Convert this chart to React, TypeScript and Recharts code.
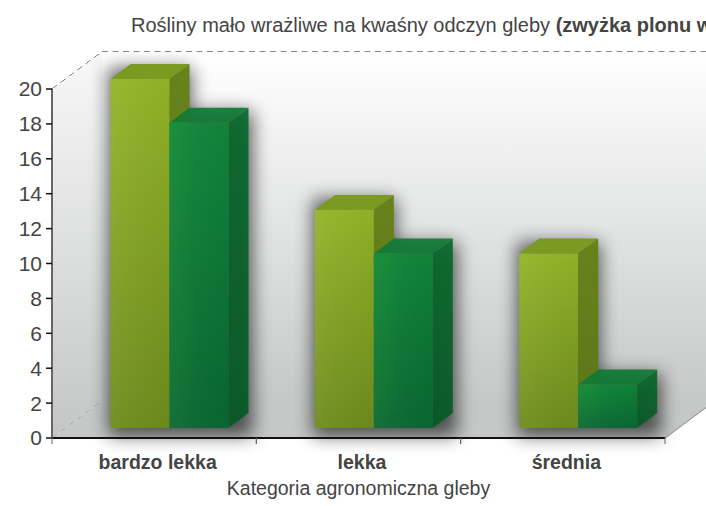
import React from 'react';
import { BarChart, Bar, XAxis, YAxis, CartesianGrid } from 'recharts';

const categories = ['bardzo lekka', 'lekka', 'średnia'];
const lightValues = [20, 12.5, 10];
const darkValues = [17.5, 10, 2.5];
const yTicks = [0, 2, 4, 6, 8, 10, 12, 14, 16, 18, 20];

const titleMain = 'Rośliny mało wrażliwe na kwaśny odczyn gleby ';
const titleBold = '(zwyżka plonu w %)';
const xTitle = 'Kategoria agronomiczna gleby';

const chartData = categories.map((name, i) => ({ name, light: lightValues[i], dark: darkValues[i] }));

const FONT = '"Liberation Sans Narrow", "Liberation Sans", sans-serif';
const TEXT = '#444444';

// plot box and the 3D depth of the room
const LEFT = 52;
const RIGHT = 665;
const TOP = 89;
const BOTTOM = 438;
const ROOM_DX = 50;
const ROOM_DY = 37;
// bars stand a little inside the room
const BAR_SHIFT_X = 15.5;
const BAR_SHIFT_Y = 10;
const BAR_DX = 20;
const BAR_DY = 15;
const BAND = (RIGHT - LEFT) / categories.length;

const Room = () => (
  <g>
    <polygon
      points={`${LEFT + ROOM_DX},${TOP - ROOM_DY} ${RIGHT + ROOM_DX},${TOP - ROOM_DY} ${RIGHT + ROOM_DX},${BOTTOM - ROOM_DY} ${LEFT + ROOM_DX},${BOTTOM - ROOM_DY}`}
      fill="url(#wallFill)"
    />
    <polygon
      points={`${LEFT},${TOP} ${LEFT + ROOM_DX},${TOP - ROOM_DY} ${LEFT + ROOM_DX},${BOTTOM - ROOM_DY} ${LEFT},${BOTTOM}`}
      fill="url(#sideFill)"
    />
    <polygon
      points={`${LEFT},${BOTTOM} ${RIGHT},${BOTTOM} ${RIGHT + ROOM_DX},${BOTTOM - ROOM_DY} ${LEFT + ROOM_DX},${BOTTOM - ROOM_DY}`}
      fill="#c6c8c8"
    />
    <line x1={RIGHT} y1={BOTTOM} x2={RIGHT + ROOM_DX} y2={BOTTOM - ROOM_DY} stroke="#8a8a8a" />
  </g>
);

const GridLine = (props: any) => {
  const { x1, y1, x2 } = props;
  return (
    <g stroke="#111" strokeWidth={1} strokeDasharray="6 4.5" fill="none">
      <line x1={x1} y1={y1} x2={x1 + ROOM_DX} y2={y1 - ROOM_DY} />
      <line x1={x1 + ROOM_DX} y1={y1 - ROOM_DY} x2={x2 + ROOM_DX} y2={y1 - ROOM_DY} />
    </g>
  );
};

const Faces = ({ x, y, w, h, front, top, side, opacity }: any) => (
  <g opacity={opacity}>
    <polygon points={`${x},${y} ${x + BAR_DX},${y - BAR_DY} ${x + w + BAR_DX},${y - BAR_DY} ${x + w},${y}`} fill={top} />
    <polygon
      points={`${x + w},${y} ${x + w + BAR_DX},${y - BAR_DY} ${x + w + BAR_DX},${y + h - BAR_DY} ${x + w},${y + h}`}
      fill={side}
    />
    <rect x={x} y={y} width={w} height={h} fill={front} />
    <rect x={x} y={y} width={w} height={h} fill="url(#frontSheen)" />
  </g>
);

const LightBar = (props: any) => {
  const { x, y, width, height, payload } = props;
  const bx = x + BAR_SHIFT_X;
  const by = y - BAR_SHIFT_Y;
  // shadows of both bars go under the faces
  const darkH = (height * payload.dark) / payload.light;
  return (
    <g>
      <g filter="url(#barShadow)" fill="#000" opacity={0.62}>
        <rect x={bx - 2} y={by - BAR_DY + 4} width={width + BAR_DX + 4} height={height + BAR_DY + 4} />
        <rect x={bx + width} y={by + height - darkH - BAR_DY + 4} width={width + BAR_DX + 4} height={darkH + BAR_DY + 4} />
      </g>
      <Faces x={bx} y={by} w={width} h={height} front="url(#lightFront)" top="#7b9a22" side="url(#lightSide)" />
    </g>
  );
};

const DarkBar = (props: any) => {
  const { x, y, width, height } = props;
  return (
    <Faces
      x={x + BAR_SHIFT_X}
      y={y - BAR_SHIFT_Y}
      w={width}
      h={height}
      front="url(#darkFront)"
      top="#117a36"
      side="url(#darkSide)"
      opacity={0.93}
    />
  );
};

const CategoryTick = (props: any) => {
  const { x, y, payload } = props;
  return (
    <g>
      <line x1={x - BAND / 2} y1={BOTTOM} x2={x - BAND / 2} y2={BOTTOM + 6} stroke="#666" />
      <line x1={x + BAND / 2} y1={BOTTOM} x2={x + BAND / 2} y2={BOTTOM + 6} stroke="#666" />
      <text x={x + 3.5} y={y + 23} textAnchor="middle" fontFamily={FONT} fontWeight="bold" fontSize={19.5} fill={TEXT}>
        {payload.value}
      </text>
    </g>
  );
};

export default function App() {
  return (
    <div style={{ position: 'absolute', left: 0, top: 0, width: 706, height: 506, background: '#fff', overflow: 'hidden' }}>
      <BarChart
        width={706}
        height={506}
        data={chartData}
        margin={{ top: TOP, right: 706 - RIGHT, bottom: 8, left: 6 }}
        barSize={59}
        barGap={0}
      >
        <defs>
          <linearGradient id="wallFill" x1="0" y1="0" x2="0" y2="1">
            <stop offset="0" stopColor="#ffffff" />
            <stop offset="1" stopColor="#c6c8c8" />
          </linearGradient>
          <linearGradient id="sideFill" x1="0" y1="0" x2="0" y2="1">
            <stop offset="0" stopColor="#f8f8f8" />
            <stop offset="1" stopColor="#c4c6c6" />
          </linearGradient>
          <linearGradient id="lightFront" x1="0" y1="0" x2="0" y2="1">
            <stop offset="0" stopColor="#93b528" />
            <stop offset="1" stopColor="#6e8c1e" />
          </linearGradient>
          <linearGradient id="lightSide" x1="0" y1="0" x2="0" y2="1">
            <stop offset="0" stopColor="#67831c" />
            <stop offset="1" stopColor="#5c7519" />
          </linearGradient>
          <linearGradient id="darkFront" x1="0" y1="0" x2="0" y2="1">
            <stop offset="0" stopColor="#0b8a38" />
            <stop offset="1" stopColor="#046a30" />
          </linearGradient>
          <linearGradient id="darkSide" x1="0" y1="0" x2="0" y2="1">
            <stop offset="0" stopColor="#0a6a2c" />
            <stop offset="1" stopColor="#085a26" />
          </linearGradient>
          <linearGradient id="frontSheen" x1="0" y1="0" x2="1" y2="0">
            <stop offset="0" stopColor="#ffffff" stopOpacity={0.05} />
            <stop offset="1" stopColor="#000000" stopOpacity={0.03} />
          </linearGradient>
          <filter id="barShadow" x="-40%" y="-20%" width="180%" height="140%">
            <feGaussianBlur stdDeviation="9" />
          </filter>
        </defs>
        <Room />
        <CartesianGrid vertical={false} horizontal={(p: any) => <GridLine key={p.key ?? p.y1} {...p} />} />
        <XAxis
          dataKey="name"
          axisLine={{ stroke: '#111', strokeWidth: 2 }}
          tickLine={false}
          height={60}
          interval={0}
          tick={<CategoryTick />}
          label={{ value: xTitle, position: 'insideBottom', offset: 3, fontFamily: FONT, fontSize: 19.5, fill: TEXT }}
        />
        <YAxis
          domain={[0, 20]}
          ticks={yTicks}
          interval={0}
          width={46}
          axisLine={{ stroke: '#666', strokeWidth: 2 }}
          tickLine={{ stroke: '#111', strokeWidth: 1.5 }}
          tickSize={6}
          tickMargin={4}
          tick={{ fontFamily: FONT, fontSize: 21, fill: TEXT }}
        />
        <Bar dataKey="light" isAnimationActive={false} shape={<LightBar />} />
        <Bar dataKey="dark" isAnimationActive={false} shape={<DarkBar />} />
        <text x={131} y={32} fontFamily={FONT} fontSize={20} fill={TEXT}>
          {titleMain}
          <tspan fontWeight="bold">{titleBold}</tspan>
        </text>
      </BarChart>
    </div>
  );
}
